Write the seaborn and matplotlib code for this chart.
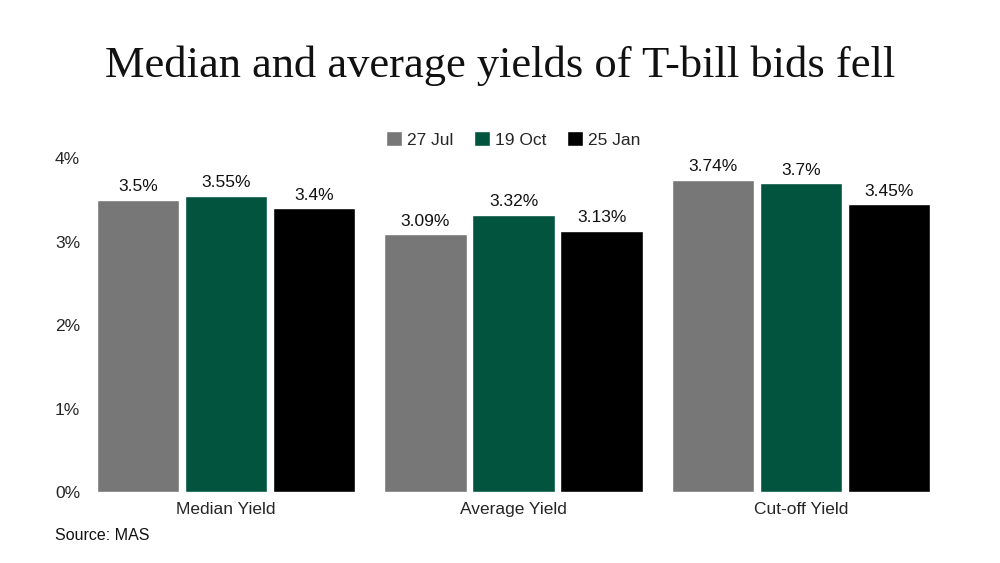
import seaborn as sns
import matplotlib.pyplot as plt
import pandas as pd

# data
categories = ["Median Yield", "Average Yield", "Cut-off Yield"]
dates = ["27 Jul", "19 Oct", "25 Jan"]
yield_27jul = [3.5, 3.09, 3.74]
yield_19oct = [3.55, 3.32, 3.7]
yield_25jan = [3.4, 3.13, 3.45]
labels_27jul = ["3.5%", "3.09%", "3.74%"]
labels_19oct = ["3.55%", "3.32%", "3.7%"]
labels_25jan = ["3.4%", "3.13%", "3.45%"]

df = pd.DataFrame({
    "category": categories * 3,
    "date": [dates[0]] * 3 + [dates[1]] * 3 + [dates[2]] * 3,
    "value": yield_27jul + yield_19oct + yield_25jan,
})
colors = ["#777777", "#02543f", "#000000"]

sns.set_theme(style="white")
plt.rcParams["font.family"] = ["Liberation Sans", "DejaVu Sans"]

fig = plt.figure(figsize=(10, 5.63), dpi=100)
ax = fig.add_axes([0.091, 0.126, 0.845, 0.593])

sns.barplot(data=df, x="category", y="value", hue="date", palette=colors,
            width=0.92, saturation=1, ax=ax, legend=True)

# shrink bars a little to leave gaps
for p in ax.patches:
    w = p.get_width()
    if w == 0:
        continue
    nw = w * 0.935
    p.set_x(p.get_x() + (w - nw) / 2)
    p.set_width(nw)

all_labels = [labels_27jul, labels_19oct, labels_25jan]
for cont, labs in zip(ax.containers, all_labels):
    ax.bar_label(cont, labels=labs, padding=4, fontsize=12.5, color="#111111")

ax.set_ylim(0, 4)
ax.set_xlim(-0.47, 2.47)
ax.set_yticks([0, 1, 2, 3, 4])
ax.set_yticklabels(["0%", "1%", "2%", "3%", "4%"], fontsize=12.5, ha="left")
ax.tick_params(axis="y", pad=26, length=0)
ax.tick_params(axis="x", pad=7, length=0, labelsize=12.5)
ax.set_xlabel("")
ax.set_ylabel("")
sns.despine(ax=ax, left=True, bottom=True)

leg = ax.legend(loc="lower center", bbox_to_anchor=(0.5, 0.985), ncol=3,
                frameon=False, fontsize=12.5, handlelength=0.9, handleheight=0.9,
                handletextpad=0.3, columnspacing=1.2)

fig.text(0.5, 0.884, "Median and average yields of T-bill bids fell",
         ha="center", va="center", fontsize=32, family="Liberation Serif",
         color="#111111")
fig.text(0.055, 0.048, "Source: MAS", ha="left", va="center", fontsize=11.5,
         color="#111111")

fig.savefig("out.png", dpi=100)
